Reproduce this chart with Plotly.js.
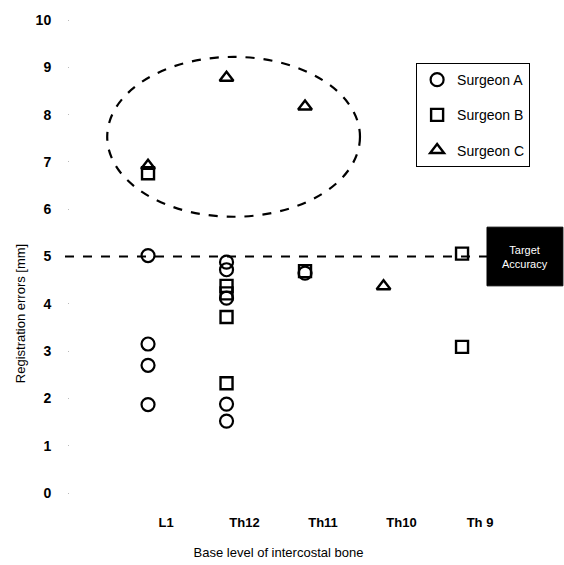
<!DOCTYPE html>
<html>
<head>
<meta charset="utf-8">
<script src="https://cdn.plot.ly/plotly-3.0.1.min.js"></script>
<style>html,body{margin:0;padding:0;background:#fff;}#chart{width:564px;height:565px;}</style>
</head>
<body>
<div id="chart"></div>
<script>
const categories = ["L1", "Th12", "Th11", "Th10", "Th 9"];

const surgeonA_x = ["L1", "L1", "L1", "L1", "Th12", "Th12", "Th12", "Th12", "Th12", "Th11"];
const surgeonA_y = [5.02, 3.15, 2.7, 1.87, 4.88, 4.72, 4.12, 1.88, 1.52, 4.65];

const surgeonB_x = ["L1", "Th12", "Th12", "Th12", "Th12", "Th11", "Th 9", "Th 9"];
const surgeonB_y = [6.76, 4.38, 4.22, 3.72, 2.32, 4.69, 5.06, 3.09];

const surgeonC_x = ["L1", "Th12", "Th11", "Th10"];
const surgeonC_y = [6.92, 8.78, 8.17, 4.37];

const targetLevel = 5;
const yTicks = [0, 1, 2, 3, 4, 5, 6, 7, 8, 9, 10];

const traces = [
  {x: surgeonA_x, y: surgeonA_y, name: "Surgeon A", mode: "markers", type: "scatter",
   legendgroup: "a", marker: {symbol: "circle-open", size: 13, color: "#000", line: {width: 2.2}}},
  {x: surgeonB_x, y: surgeonB_y, name: "Surgeon B", mode: "markers", type: "scatter",
   legendgroup: "b", marker: {symbol: "square-open", size: 12, color: "#000", line: {width: 2.4}}},
  {x: surgeonC_x, y: surgeonC_y, name: "Surgeon C", mode: "markers", type: "scatter",
   legendgroup: "c", marker: {symbol: "triangle-up-open", size: 12, color: "#000", line: {width: 2.4}}}
];

const layout = {
  width: 564, height: 565,
  margin: {l: 70, r: 77, t: 20, b: 72},
  paper_bgcolor: "#fff", plot_bgcolor: "#fff",
  font: {family: "Liberation Sans, Arial, sans-serif", color: "#000", size: 13},
  showlegend: true,
  legend: {x: 0.83, y: 0.909, xanchor: "left", yanchor: "top",
           bordercolor: "#000", borderwidth: 1, bgcolor: "#fff",
           font: {size: 14}, itemwidth: 30, tracegroupgap: 14},
  xaxis: {type: "category", categoryarray: categories, categoryorder: "array",
          range: [-0.994, 4.318], showgrid: false, zeroline: false, showline: false,
          ticks: "", ticklabelshift: 18, ticklabelstandoff: 20,
          tickfont: {size: 13, family: "Liberation Sans, Arial, sans-serif", weight: "bold"},
          title: {text: "Base level of intercostal bone", font: {size: 13}, standoff: 18}},
  yaxis: {range: [0, 10], tickvals: yTicks, showgrid: false, zeroline: false, showline: false,
          ticks: "outside", ticklen: 1, tickcolor: "#bbb", ticklabelstandoff: 14,
          tickfont: {size: 14, family: "Liberation Sans, Arial, sans-serif", weight: "bold"}},
  shapes: [
    {type: "line", xref: "paper", yref: "y", x0: -0.012, x1: 1, y0: targetLevel, y1: targetLevel,
     line: {color: "#000", width: 2, dash: "dash"}},
    {type: "circle", xref: "x", yref: "y", x0: -0.52, x1: 2.70, y0: 5.84, y1: 9.22,
     line: {color: "#000", width: 2.2, dash: "dash"}},
    {type: "rect", xref: "paper", yref: "y", x0: 1.0, x1: 1.182, y0: 4.38, y1: 5.62,
     fillcolor: "#000", line: {color: "#000", width: 1}}
  ],
  annotations: [
    {xref: "paper", yref: "y", x: 1.091, y: targetLevel, text: "Target<br>Accuracy",
     showarrow: false, font: {color: "#fff", size: 11}, xanchor: "center", yanchor: "middle"},
    {xref: "paper", yref: "paper", x: -0.12, y: 0.38, text: "Registration errors [mm]",
     textangle: -90, showarrow: false, font: {size: 13}, xanchor: "center", yanchor: "middle"}
  ]
};

Plotly.newPlot("chart", traces, layout, {displayModeBar: false, staticPlot: true});
</script>
</body>
</html>
